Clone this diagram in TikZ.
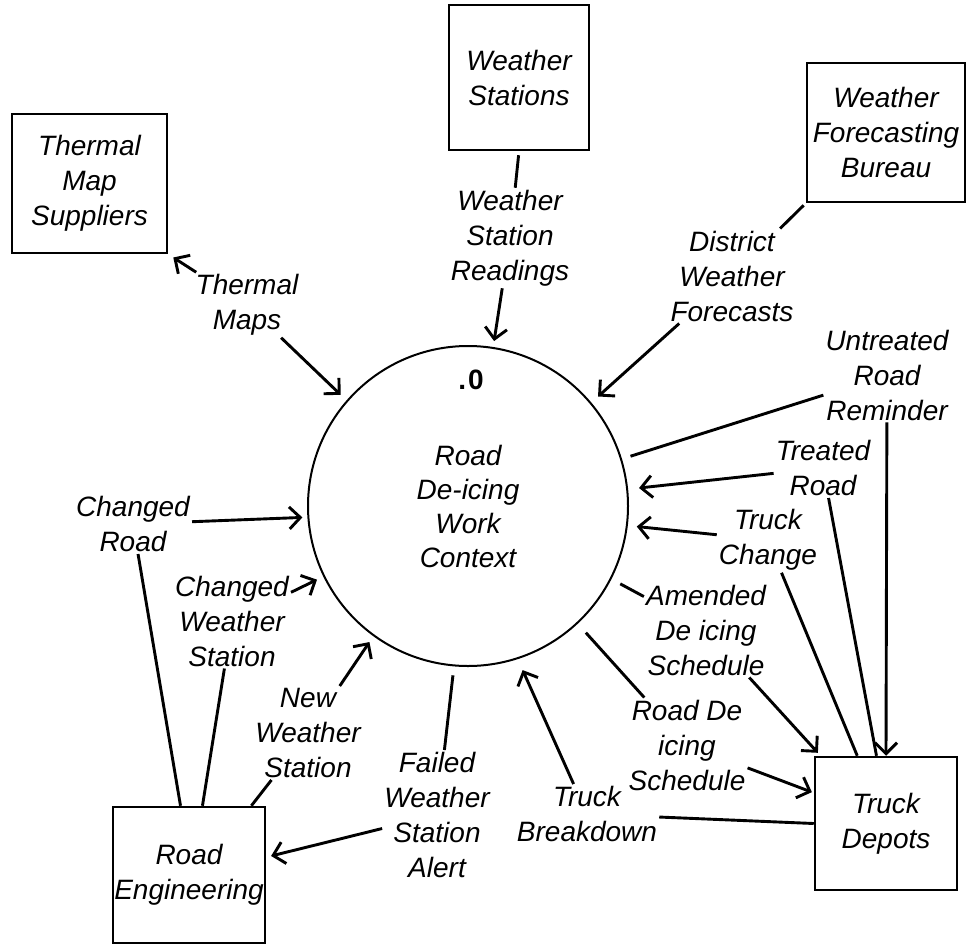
\documentclass[tikz,border=0pt]{standalone}
\usepackage{fontspec}
\setmainfont{Liberation Sans}
\usetikzlibrary{arrows.meta}
\tikzset{
  entity/.style={draw, line width=2.5pt, inner sep=0pt, align=center,
    font=\fontsize{28pt}{35pt}\selectfont\itshape},
  flowlbl/.style={inner sep=2pt, align=center,
    font=\fontsize{28pt}{35pt}\selectfont\itshape},
  flow/.style={line width=2.9pt},
  flowarr/.style={flow, -{Straight Barb[length=11pt,width=22pt]}}
}

\begin{document}
\begin{tikzpicture}[x=1pt, y=-1pt]
  \useasboundingbox (0,0) rectangle (969,945);

  \node[draw, circle, line width=2pt, minimum size=320pt, inner sep=0pt, align=center,
        font=\fontsize{28pt}{34pt}\selectfont\itshape]
    (ctx) at (468,506) {Road\\De-icing\\Work\\Context};
  \node[font=\fontsize{28pt}{34pt}\selectfont\bfseries] (num) at (471,380) {.\kern2pt 0};

  \node[entity, minimum width=140pt, minimum height=145pt] (ws) at (519,77.5) {Weather\\Stations};
  \node[entity, minimum width=155pt, minimum height=139pt] (tms) at (89.5,183.5) {Thermal\\Map\\Suppliers};
  \node[entity, minimum width=158pt, minimum height=139pt] (wfb) at (886,132.5) {Weather\\Forecasting\\Bureau};
  \node[entity, minimum width=152pt, minimum height=136pt] (re) at (189,875) {Road\\Engineering};
  \node[entity, minimum width=142pt, minimum height=133pt] (td) at (886,823.5) {Truck\\Depots};

  \node[flowlbl] (wsr) at (510,238) {Weather\\Station\\Readings};
  \node[flowlbl] (dwf) at (732,276) {District\\Weather\\Forecasts};
  \node[flowlbl] (thm) at (247,305) {Thermal\\Maps};
  \node[flowlbl] (urr) at (887,375) {Untreated\\Road\\Reminder};
  \node[flowlbl] (trd) at (823,468) {Treated\\Road};
  \node[flowlbl] (tch) at (768,540) {Truck\\Change};
  \node[flowlbl] (ams) at (706,630) {Amended\\De icing\\Schedule};
  \node[flowlbl] (rds) at (687,745) {Road De\\icing\\Schedule};
  \node[flowlbl] (tbk) at (587,814) {Truck\\Breakdown};
  \node[flowlbl] (fws) at (437,815) {Failed\\Weather\\Station\\Alert};
  \node[flowlbl] (nws) at (308,733) {New\\Weather\\Station};
  \node[flowlbl] (cws) at (232,621) {Changed\\Weather\\Station};
  \node[flowlbl] (crd) at (133,524) {Changed\\Road};

  \draw[flow, shorten <=4pt] (ws.south) -- (wsr);
  \draw[flowarr, shorten >=6pt] (wsr) -- (ctx.81);
  \draw[flow, shorten <=3pt] (wfb.south west) -- (dwf);
  \draw[flowarr, shorten >=9pt] (dwf) -- (ctx.40);
  \draw[flowarr, shorten >=6pt] (thm) -- (tms.south east);
  \draw[flowarr, shorten >=8pt] (thm) -- (ctx.139);
  \draw[flow, shorten <=9pt] (ctx.17) -- (urr);
  \draw[flowarr] (urr) -- (td.north);
  \draw[flowarr, shorten >=11pt] (trd) -- (ctx.6);
  \draw[flow] (trd) -- (td.98);
  \draw[flowarr, shorten >=9pt] (tch) -- (ctx.-7);
  \draw[flow] (tch) -- (td.113);
  \draw[flow, shorten <=10pt] (ctx.-27) -- (ams);
  \draw[flowarr, shorten >=4pt] (ams) -- (td.134);
  \draw[flow, shorten <=12pt] (ctx.-47) -- (rds);
  \draw[flowarr, shorten >=2pt] (rds) -- (td.157);
  \draw[flow] (td.west) -- (tbk);
  \draw[flowarr, shorten >=12pt] (tbk) -- (ctx.-72);
  \draw[flow, shorten <=9pt] (ctx.-95) -- (fws);
  \draw[flowarr, shorten >=5pt] (fws) -- (re.13);
  \draw[flow] (re.48) -- (nws);
  \draw[flowarr, shorten >=7pt] (nws) -- (ctx.-126);
  \draw[flow] (re.79) -- (cws);
  \draw[flowarr, shorten >=7pt] (cws) -- (ctx.-154);
  \draw[flow] (re.97) -- (crd);
  \draw[flowarr, shorten >=5pt] (crd) -- (ctx.-176);
\end{tikzpicture}
\end{document}
